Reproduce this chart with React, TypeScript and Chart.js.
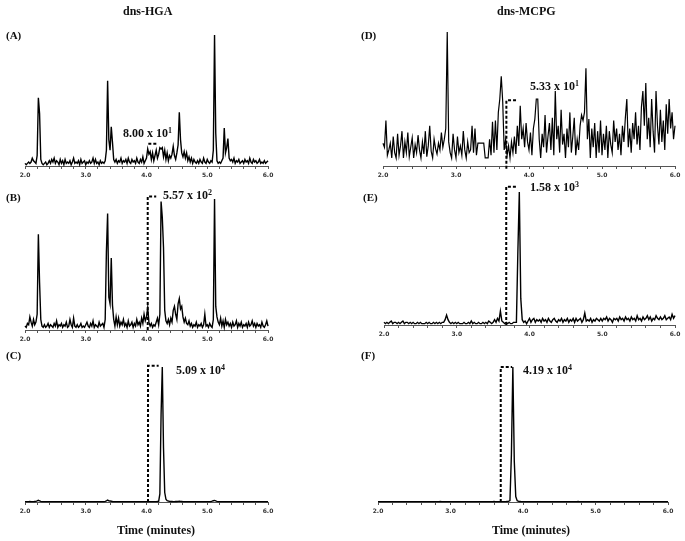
import React, { useEffect, useRef } from "react";
import { Chart, registerables } from "chart.js";
Chart.register(...registerables);

// Retention time grid (minutes)
const times = [
  2.00, 2.02, 2.04, 2.06, 2.08, 2.10, 2.12, 2.14, 2.16, 2.18,
  2.20, 2.22, 2.24, 2.26, 2.28, 2.30, 2.32, 2.34, 2.36, 2.38,
  2.40, 2.42, 2.44, 2.46, 2.48, 2.50, 2.52, 2.54, 2.56, 2.58,
  2.60, 2.62, 2.64, 2.66, 2.68, 2.70, 2.72, 2.74, 2.76, 2.78,
  2.80, 2.82, 2.84, 2.86, 2.88, 2.90, 2.92, 2.94, 2.96, 2.98,
  3.00, 3.02, 3.04, 3.06, 3.08, 3.10, 3.12, 3.14, 3.16, 3.18,
  3.20, 3.22, 3.24, 3.26, 3.28, 3.30, 3.32, 3.34, 3.36, 3.38,
  3.40, 3.42, 3.44, 3.46, 3.48, 3.50, 3.52, 3.54, 3.56, 3.58,
  3.60, 3.62, 3.64, 3.66, 3.68, 3.70, 3.72, 3.74, 3.76, 3.78,
  3.80, 3.82, 3.84, 3.86, 3.88, 3.90, 3.92, 3.94, 3.96, 3.98,
  4.00, 4.02, 4.04, 4.06, 4.08, 4.10, 4.12, 4.14, 4.16, 4.18,
  4.20, 4.22, 4.24, 4.26, 4.28, 4.30, 4.32, 4.34, 4.36, 4.38,
  4.40, 4.42, 4.44, 4.46, 4.48, 4.50, 4.52, 4.54, 4.56, 4.58,
  4.60, 4.62, 4.64, 4.66, 4.68, 4.70, 4.72, 4.74, 4.76, 4.78,
  4.80, 4.82, 4.84, 4.86, 4.88, 4.90, 4.92, 4.94, 4.96, 4.98,
  5.00, 5.02, 5.04, 5.06, 5.08, 5.10, 5.12, 5.14, 5.16, 5.18,
  5.20, 5.22, 5.24, 5.26, 5.28, 5.30, 5.32, 5.34, 5.36, 5.38,
  5.40, 5.42, 5.44, 5.46, 5.48, 5.50, 5.52, 5.54, 5.56, 5.58,
  5.60, 5.62, 5.64, 5.66, 5.68, 5.70, 5.72, 5.74, 5.76, 5.78,
  5.80, 5.82, 5.84, 5.86, 5.88, 5.90, 5.92, 5.94, 5.96, 5.98,
  6.00,
];

// Relative intensities (% of panel maximum)
const hgaA = [
  2, 1, 2, 3, 2, 3, 6, 4, 3, 2,
  8, 52, 40, 5, 2, 1, 2, 3, 1, 2,
  4, 2, 5, 3, 6, 2, 4, 3, 1, 5,
  2, 4, 1, 5, 2, 3, 2, 4, 1, 3,
  6, 2, 3, 2, 4, 1, 5, 2, 3, 4,
  1, 3, 2, 4, 2, 3, 6, 2, 5, 2,
  3, 1, 4, 2, 3, 2, 4, 12, 65, 20,
  12, 30, 18, 5, 3, 5, 2, 4, 3, 6,
  2, 4, 3, 5, 2, 6, 3, 2, 5, 3,
  4, 2, 6, 3, 2, 5, 3, 7, 2, 4,
  6, 13, 9, 11, 5, 10, 4, 8, 12, 6,
  9, 14, 13, 14, 7, 12, 5, 10, 4, 8,
  6, 9, 15, 8, 5, 10, 16, 41, 20, 10,
  7, 11, 6, 10, 4, 7, 3, 6, 2, 5,
  3, 2, 4, 2, 5, 3, 2, 6, 3, 2,
  5, 3, 2, 4, 3, 12, 100, 25, 4, 2,
  3, 2, 4, 6, 29, 10, 14, 21, 6, 4,
  5, 3, 6, 2, 4, 3, 5, 2, 3, 4,
  2, 5, 3, 4, 2, 6, 3, 2, 5, 3,
  4, 2, 3, 5, 2, 3, 2, 4, 2, 3,
  4,
];

const hgaB = [
  3, 2, 5, 4, 10, 6, 3, 8, 4, 6,
  12, 73, 36, 8, 3, 2, 4, 2, 3, 5,
  2, 4, 3, 2, 5, 3, 7, 2, 4, 3,
  5, 2, 4, 3, 6, 2, 3, 8, 4, 2,
  9, 3, 2, 4, 2, 3, 5, 2, 3, 2,
  4, 6, 3, 2, 5, 3, 7, 2, 4, 3,
  2, 6, 3, 4, 5, 2, 8, 60, 89, 25,
  20, 55, 19, 8, 3, 10, 4, 9, 3, 6,
  4, 8, 3, 5, 2, 7, 3, 4, 6, 2,
  5, 3, 8, 4, 6, 3, 9, 5, 12, 7,
  10, 17, 6, 3, 5, 2, 4, 3, 6, 9,
  4, 12, 98, 86, 63, 15, 7, 5, 8, 4,
  9, 6, 15, 18, 12, 8, 20, 24, 16, 18,
  10, 6, 9, 5, 4, 7, 3, 5, 2, 4,
  3, 6, 2, 4, 3, 5, 2, 4, 12, 3,
  4, 2, 5, 3, 2, 8, 100, 18, 10, 6,
  4, 9, 3, 7, 2, 8, 4, 6, 3, 5,
  2, 6, 3, 4, 7, 2, 5, 3, 6, 2,
  4, 3, 5, 2, 6, 3, 4, 7, 3, 5,
  2, 5, 3, 4, 2, 6, 3, 2, 4, 7,
  3,
];

const hgaC = [
  0.3, 0.3, 0.3, 0.3, 0.4, 0.3, 0.3, 0.3, 0.4, 0.5,
  0.8, 1.3, 0.9, 0.5, 0.3, 0.3, 0.3, 0.3, 0.3, 0.3,
  0.3, 0.3, 0.3, 0.3, 0.3, 0.3, 0.3, 0.3, 0.3, 0.3,
  0.3, 0.3, 0.3, 0.3, 0.3, 0.3, 0.3, 0.3, 0.3, 0.3,
  0.3, 0.3, 0.3, 0.3, 0.3, 0.3, 0.3, 0.3, 0.3, 0.3,
  0.3, 0.3, 0.3, 0.3, 0.3, 0.3, 0.3, 0.3, 0.3, 0.3,
  0.3, 0.3, 0.3, 0.3, 0.3, 0.3, 0.5, 0.9, 1.4, 0.8,
  0.7, 0.6, 0.4, 0.3, 0.3, 0.3, 0.3, 0.3, 0.3, 0.3,
  0.3, 0.3, 0.3, 0.3, 0.3, 0.3, 0.3, 0.3, 0.3, 0.3,
  0.3, 0.3, 0.3, 0.3, 0.3, 0.3, 0.3, 0.3, 0.3, 0.3,
  0.3, 0.3, 0.3, 0.3, 0.3, 0.3, 0.3, 0.3, 0.3, 0.4,
  0.5, 6, 65, 100, 40, 7, 2, 1, 0.7, 0.5,
  0.4, 0.4, 0.3, 0.3, 0.4, 0.4, 0.5, 0.6, 0.5, 0.4,
  0.3, 0.3, 0.3, 0.3, 0.3, 0.3, 0.3, 0.3, 0.3, 0.3,
  0.3, 0.3, 0.3, 0.3, 0.3, 0.3, 0.3, 0.3, 0.3, 0.3,
  0.3, 0.3, 0.3, 0.4, 0.6, 0.9, 1.2, 0.8, 0.5, 0.3,
  0.3, 0.3, 0.3, 0.3, 0.3, 0.3, 0.3, 0.3, 0.3, 0.3,
  0.3, 0.3, 0.3, 0.3, 0.3, 0.3, 0.3, 0.3, 0.3, 0.3,
  0.3, 0.3, 0.3, 0.3, 0.3, 0.3, 0.3, 0.3, 0.3, 0.3,
  0.3, 0.3, 0.3, 0.3, 0.3, 0.3, 0.3, 0.3, 0.3, 0.3,
  0.3,
];

const mcpgD = [
  17, 14, 34, 8, 12, 17, 6, 22, 10, 6,
  24, 8, 15, 26, 6, 18, 10, 25, 7, 14,
  21, 6, 16, 10, 23, 12, 6, 18, 9, 26,
  7, 15, 30, 11, 6, 20, 13, 9, 17, 12,
  25, 14, 20, 28, 100, 18, 10, 6, 24, 12,
  6, 22, 10, 15, 8, 26, 12, 6, 18, 10,
  12, 30, 10, 28, 8, 17, 17, 17, 17, 17,
  6, 6, 6, 20, 8, 33, 10, 34, 12, 40,
  50, 67, 48, 12, 20, 8, 15, 6, 18, 10,
  22, 9, 30, 15, 45, 20, 28, 14, 32, 18,
  12, 25, 8, 28, 35, 50, 50, 20, 6, 24,
  14, 38, 10, 22, 32, 12, 36, 8, 56, 20,
  30, 10, 42, 16, 24, 6, 28, 14, 40, 10,
  22, 36, 8, 20, 12, 30, 38, 34, 40, 73,
  20, 35, 6, 28, 14, 32, 6, 26, 10, 34,
  8, 24, 12, 30, 6, 26, 16, 10, 34, 18,
  28, 12, 24, 8, 30, 18, 36, 50, 14, 28,
  10, 32, 20, 40, 16, 30, 12, 44, 56, 30,
  62, 20, 36, 14, 50, 26, 10, 56, 30, 16,
  42, 18, 34, 12, 46, 24, 50, 28, 40, 20,
  30,
];

const mcpgE = [
  2, 1, 2, 1, 2, 3, 1, 2, 2, 1,
  2, 1, 2, 3, 1, 2, 2, 1, 2, 1,
  2, 1, 1, 2, 1, 2, 1, 1, 1, 2,
  1, 2, 1, 1, 2, 1, 2, 1, 2, 1,
  2, 2, 4, 7.5, 4, 2, 1, 2, 1, 2,
  1, 2, 1, 1, 1, 2, 1, 1, 2, 1,
  3, 1, 2, 1, 1, 2, 1, 1, 2, 1,
  2, 1, 3, 2, 1, 2, 4, 2, 5, 3,
  10.5, 3, 2, 1, 2, 1, 2, 1, 1, 2,
  2, 2, 55, 100, 20, 4, 2, 3, 1, 3,
  5, 2, 4, 5, 2, 4, 3, 4, 2, 5,
  3, 4, 2, 5, 3, 2, 4, 5, 3, 2,
  4, 3, 5, 2, 4, 3, 5, 2, 4, 3,
  5, 2, 5, 3, 4, 5, 2, 4, 9, 3,
  4, 3, 5, 2, 4, 3, 5, 4, 3, 5,
  3, 5, 4, 6, 3, 5, 4, 2, 5, 4,
  5, 3, 6, 4, 5, 3, 6, 4, 5, 3,
  6, 4, 5, 3, 7, 4, 5, 3, 6, 4,
  5, 7, 4, 6, 3, 5, 4, 7, 5, 4,
  6, 4, 5, 7, 4, 5, 6, 4, 8, 5,
  7,
];

const mcpgF = [
  0.3, 0.3, 0.3, 0.3, 0.3, 0.3, 0.3, 0.3, 0.3, 0.3,
  0.3, 0.3, 0.3, 0.3, 0.3, 0.3, 0.3, 0.3, 0.3, 0.3,
  0.3, 0.3, 0.3, 0.3, 0.3, 0.3, 0.3, 0.3, 0.3, 0.3,
  0.3, 0.3, 0.3, 0.3, 0.3, 0.3, 0.3, 0.3, 0.3, 0.3,
  0.3, 0.3, 0.3, 0.4, 0.3, 0.3, 0.3, 0.3, 0.3, 0.3,
  0.3, 0.3, 0.3, 0.3, 0.3, 0.3, 0.3, 0.3, 0.3, 0.3,
  0.3, 0.3, 0.3, 0.3, 0.3, 0.3, 0.3, 0.3, 0.3, 0.3,
  0.3, 0.3, 0.3, 0.3, 0.3, 0.3, 0.3, 0.3, 0.3, 0.3,
  0.4, 0.3, 0.3, 0.3, 0.3, 0.3, 0.3, 0.3, 0.3, 0.4,
  0.5, 1, 35, 100, 30, 4, 1, 0.5, 0.4, 0.3,
  0.3, 0.3, 0.3, 0.3, 0.3, 0.3, 0.3, 0.3, 0.3, 0.3,
  0.3, 0.3, 0.3, 0.3, 0.3, 0.3, 0.3, 0.3, 0.3, 0.3,
  0.3, 0.3, 0.3, 0.3, 0.3, 0.3, 0.3, 0.3, 0.3, 0.3,
  0.3, 0.3, 0.3, 0.3, 0.3, 0.3, 0.3, 0.3, 0.4, 0.3,
  0.3, 0.3, 0.3, 0.3, 0.3, 0.3, 0.3, 0.3, 0.3, 0.3,
  0.3, 0.3, 0.3, 0.3, 0.3, 0.3, 0.3, 0.3, 0.3, 0.3,
  0.3, 0.3, 0.3, 0.3, 0.3, 0.3, 0.3, 0.3, 0.3, 0.3,
  0.3, 0.3, 0.3, 0.3, 0.3, 0.3, 0.3, 0.3, 0.3, 0.3,
  0.3, 0.3, 0.3, 0.3, 0.3, 0.3, 0.3, 0.3, 0.3, 0.3,
  0.3, 0.3, 0.3, 0.3, 0.3, 0.3, 0.3, 0.3, 0.3, 0.3,
  0.3,
];

// Dashed analyte markers: [retention time, height, end time, start height]
const markerA = [4.03, 17, 4.18, 17];
const markerB = [4.02, 102, 4.16, 0];
const markerC = [4.025, 101, 4.2, 0];
const markerD = [3.69, 49, 3.83, -2];
const markerE = [3.68, 104, 3.82, 0];
const markerF = [3.693, 100, 3.85, 0];

// Peak intensity annotations
const labelA = ["8.00 x 10", "1"];
const labelB = ["5.57 x 10", "2"];
const labelC = ["5.09 x 10", "4"];
const labelD = ["5.33 x 10", "1"];
const labelE = ["1.58 x 10", "3"];
const labelF = ["4.19 x 10", "4"];

const xTickMin = 2;
const xTickMax = 6;
const xTickStep = 0.2;

const SERIF = '"Liberation Serif", "Times New Roman", serif';

type PanelProps = {
  L: number; R: number; T: number; B: number;
  series: number[]; marker: number[]; lw?: number;
};

function Panel({ L, R, T, B, series, marker, lw = 1.4 }: PanelProps) {
  const ref = useRef<HTMLCanvasElement>(null);
  useEffect(() => {
    const chart = new Chart(ref.current!, {
      type: "line",
      data: {
        datasets: [
          {
            data: times.map((t, i) => ({ x: t, y: series[i] })),
            borderColor: "#000",
            borderWidth: lw,
            pointRadius: 0,
            tension: 0,
            clip: false as any,
          },
          {
            data: [
              { x: marker[0], y: marker[3] },
              { x: marker[0], y: marker[1] },
              { x: marker[2], y: marker[1] },
            ],
            borderColor: "#000",
            borderWidth: 2,
            borderDash: [3, 2],
            pointRadius: 0,
            tension: 0,
            clip: false as any,
          },
        ],
      },
      options: {
        animation: false,
        responsive: true,
        maintainAspectRatio: false,
        events: [],
        layout: { padding: { left: 10, right: 10, top: 20, bottom: 0 } },
        plugins: { legend: { display: false }, tooltip: { enabled: false } },
        scales: {
          x: {
            type: "linear",
            min: xTickMin,
            max: xTickMax,
            afterFit: (s: any) => { s.height = 14; },
            grid: { display: true, drawOnChartArea: false, drawTicks: true, tickLength: 3, color: "#555" },
            border: { display: true, color: "#555", width: 1 },
            ticks: {
              stepSize: xTickStep,
              autoSkip: false,
              maxRotation: 0,
              padding: 3,
              color: "#333",
              font: { size: 6, weight: "bold", family: '"DejaVu Sans", sans-serif' },
              callback: (v: any) => {
                const n = Number(v);
                return Math.abs(n - Math.round(n)) < 1e-6 ? n.toFixed(1) : "";
              },
            },
          },
          y: { display: false, min: 0, max: 100 },
        },
      },
    } as any);
    return () => chart.destroy();
  }, []);
  return (
    <div style={{ position: "absolute", left: L - 10, top: T - 20, width: R - L + 20, height: B - T + 34 }}>
      <canvas ref={ref} />
    </div>
  );
}

function Txt({ x, y, size = 12, children }: { x: number; y: number; size?: number; children: React.ReactNode }) {
  return (
    <div
      style={{
        position: "absolute", left: x, top: y, fontFamily: SERIF, fontWeight: "bold",
        fontSize: size, lineHeight: "12px", color: "#111", whiteSpace: "nowrap",
      }}
    >
      {children}
    </div>
  );
}

function Amount({ x, y, label }: { x: number; y: number; label: string[] }) {
  return (
    <Txt x={x} y={y}>
      {label[0]}
      <span style={{ fontSize: 8, position: "relative", top: -4 }}>{label[1]}</span>
    </Txt>
  );
}

export default function App() {
  return (
    <div style={{ position: "absolute", left: 0, top: 0, width: 685, height: 541, background: "#fff", overflow: "hidden" }}>
      <Panel L={25} R={268} T={35} B={166} series={hgaA} marker={markerA} />
      <Panel L={25} R={268} T={199} B={330} series={hgaB} marker={markerB} />
      <Panel L={25} R={268} T={367} B={502} series={hgaC} marker={markerC} />
      <Panel L={383} R={675} T={32} B={166} series={mcpgD} marker={markerD} lw={1.2} />
      <Panel L={384} R={675} T={192} B={325} series={mcpgE} marker={markerE} />
      <Panel L={378} R={668} T={367} B={502} series={mcpgF} marker={markerF} />

      <Txt x={123} y={5}>dns-HGA</Txt>
      <Txt x={497} y={5}>dns-MCPG</Txt>

      <Txt x={6} y={29} size={11}>(A)</Txt>
      <Txt x={6} y={191} size={11}>(B)</Txt>
      <Txt x={6} y={349} size={11}>(C)</Txt>
      <Txt x={361} y={29} size={11}>(D)</Txt>
      <Txt x={363} y={191} size={11}>(E)</Txt>
      <Txt x={361} y={349} size={11}>(F)</Txt>

      <Amount x={123} y={127} label={labelA} />
      <Amount x={163} y={189} label={labelB} />
      <Amount x={176} y={364} label={labelC} />
      <Amount x={530} y={80} label={labelD} />
      <Amount x={530} y={181} label={labelE} />
      <Amount x={523} y={364} label={labelF} />

      <Txt x={117} y={524}>Time (minutes)</Txt>
      <Txt x={492} y={524}>Time (minutes)</Txt>
    </div>
  );
}
